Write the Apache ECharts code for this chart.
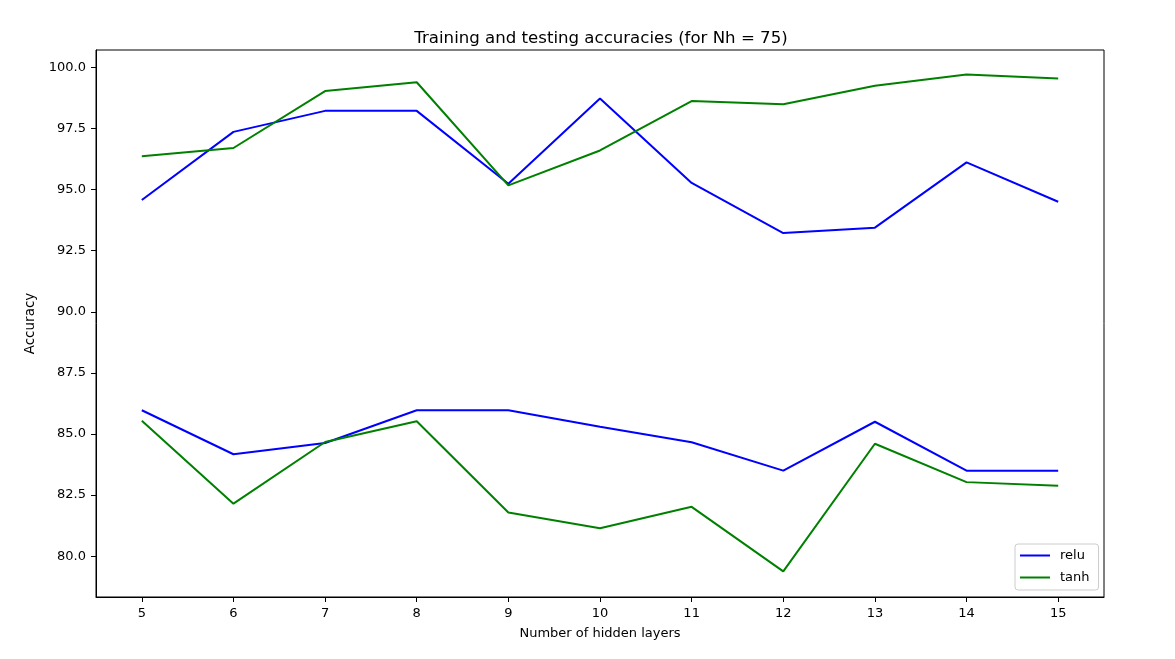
<!DOCTYPE html>
<html>
<head>
<meta charset="utf-8">
<script src="https://cdn.jsdelivr.net/npm/echarts@6/dist/echarts.min.js"></script>
<style>
html,body{margin:0;padding:0;background:#fff;}
#chart{width:1175px;height:659px;}
</style>
</head>
<body>
<div id="chart"></div>
<script>
const hiddenLayers = [5, 6, 7, 8, 9, 10, 11, 12, 13, 14, 15];
const reluTrain = [94.57, 97.36, 98.22, 98.22, 95.24, 98.73, 95.27, 93.22, 93.44, 96.11, 94.50];
const tanhTrain = [96.36, 96.70, 99.03, 99.39, 95.17, 96.60, 98.62, 98.49, 99.25, 99.71, 99.54];
const reluTest = [85.97, 84.17, 84.63, 85.97, 85.97, 85.30, 84.66, 83.50, 85.50, 83.50, 83.50];
const tanhTest = [85.54, 82.15, 84.67, 85.52, 81.79, 81.14, 82.02, 79.38, 84.60, 83.03, 82.88];
const xTicks = [5, 6, 7, 8, 9, 10, 11, 12, 13, 14, 15];
const yTicks = [80, 82.5, 85, 87.5, 90, 92.5, 95, 97.5, 100];

const FONT = 'DejaVu Sans';
const pairs = arr => hiddenLayers.map((x, i) => [x, arr[i]]);
const lineSeries = (name, color, arr) => ({
  name: name, type: 'line', data: pairs(arr), showSymbol: false, symbol: 'none',
  lineStyle: {color: color, width: 2}, itemStyle: {color: color}, animation: false
});

const chart = echarts.init(document.getElementById('chart'), null, {renderer: 'canvas'});
chart.setOption({
  backgroundColor: '#fff',
  animation: false,
  title: {
    text: 'Training and testing accuracies (for Nh = 75)',
    left: 596, top: 25, textAlign: 'center',
    textStyle: {fontFamily: FONT, fontSize: 16.6, fontWeight: 'normal', color: '#000'}
  },
  grid: {left: 96, right: 71, top: 50, bottom: 62, show: true, borderColor: '#000', borderWidth: 1, backgroundColor: '#fff'},
  legend: {
    data: ['relu', 'tanh'], orient: 'vertical', left: 1015, top: 544,
    icon: 'rect', itemWidth: 30, itemHeight: 2, itemGap: 7,
    padding: [4, 9, 5, 5],
    borderColor: '#cccccc', borderWidth: 1, borderRadius: 3, backgroundColor: 'rgba(255,255,255,0.8)',
    textStyle: {fontFamily: FONT, fontSize: 13, color: '#000', padding: [0, 0, 0, 5], lineHeight: 15}
  },
  xAxis: {
    type: 'value', min: 4.5, max: 15.5,
    name: 'Number of hidden layers', nameLocation: 'middle', nameGap: 30,
    nameTextStyle: {fontFamily: FONT, fontSize: 13, color: '#000'},
    axisLine: {show: true, lineStyle: {color: '#000', width: 1}},
    axisTick: {show: true, inside: false, length: 5, lineStyle: {color: '#000'}, customValues: xTicks},
    axisLabel: {fontFamily: FONT, fontSize: 13, color: '#000', margin: 10, customValues: xTicks},
    splitLine: {show: false}
  },
  yAxis: {
    type: 'value', min: 78.33, max: 100.71,
    name: 'Accuracy', nameLocation: 'middle', nameGap: 55, nameRotate: 90,
    nameTextStyle: {fontFamily: FONT, fontSize: 13.5, color: '#000'},
    axisLine: {show: true, lineStyle: {color: '#000', width: 1}},
    axisTick: {show: true, inside: false, length: 5, lineStyle: {color: '#000'}, customValues: yTicks},
    axisLabel: {fontFamily: FONT, fontSize: 13, color: '#000', margin: 10, customValues: yTicks,
      formatter: v => Number(v).toFixed(1)},
    splitLine: {show: false}
  },
  series: [
    lineSeries('relu', '#0000ff', reluTrain),
    lineSeries('tanh', '#008000', tanhTrain),
    lineSeries('relu', '#0000ff', reluTest),
    lineSeries('tanh', '#008000', tanhTest)
  ]
});
</script>
</body>
</html>
